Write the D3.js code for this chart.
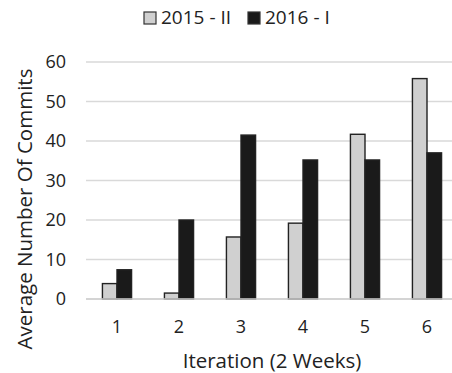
<!DOCTYPE html>
<html>
<head>
<meta charset="utf-8">
<script src="https://cdn.jsdelivr.net/npm/d3@7"></script>
<style>
  html, body { margin: 0; padding: 0; background: #fff; }
  svg { display: block; font-family: "Open Sans", sans-serif; }
</style>
</head>
<body>
<svg id="chart" width="452" height="373"></svg>
<script>
// Average commits per two-week iteration, two semesters
const iterations = ["1", "2", "3", "4", "5", "6"];
const seriesNames = ["2015 - II", "2016 - I"];
const commits2015 = [3.9, 1.5, 15.7, 19.2, 41.7, 55.8];
const commits2016 = [7.4, 20.0, 41.5, 35.2, 35.2, 37.0];
const yTicks = [0, 10, 20, 30, 40, 50, 60];

const seriesFill = ["#d0d0d0", "#1a1a1a"];

const svg = d3.select("#chart");
const W = 452, H = 373;
const m = { left: 86, right: -6, top: 62, bottom: 74 };

const x = d3.scaleBand()
  .domain(iterations)
  .range([m.left, W - m.right])
  .paddingInner(0.53)
  .paddingOuter(0.265);

const xSeries = d3.scaleBand()
  .domain(seriesNames)
  .range([0, x.bandwidth()]);

const y = d3.scaleLinear()
  .domain([0, 60])
  .range([H - m.bottom, m.top]);

// horizontal gridlines
svg.append("g")
  .selectAll("line")
  .data(yTicks)
  .join("line")
  .attr("x1", m.left)
  .attr("x2", W)
  .attr("y1", d => y(d))
  .attr("y2", d => y(d))
  .attr("stroke", "#d9d9d9")
  .attr("stroke-width", 1.5);

// y tick labels
const yAxis = svg.append("g")
  .attr("transform", `translate(${m.left - 20},0)`)
  .call(d3.axisLeft(y).tickValues(yTicks).tickSize(0).tickPadding(0));
yAxis.select(".domain").remove();
yAxis.selectAll("text")
  .attr("font-size", 18)
  .attr("fill", "#222")
  .style("font-family", "'Open Sans', sans-serif");

// bars
const rows = iterations.map((it, i) => ({ it, vals: [commits2015[i], commits2016[i]] }));
svg.append("g")
  .selectAll("g")
  .data(rows)
  .join("g")
  .attr("transform", d => `translate(${x(d.it)},0)`)
  .selectAll("rect")
  .data(d => d.vals.map((v, k) => ({ v, k })))
  .join("rect")
  .attr("x", d => xSeries(seriesNames[d.k]))
  .attr("width", xSeries.bandwidth())
  .attr("y", d => y(d.v))
  .attr("height", d => y(0) - y(d.v))
  .attr("fill", d => seriesFill[d.k])
  .attr("stroke", "#222")
  .attr("stroke-width", 1.4);

// baseline
svg.append("line")
  .attr("x1", m.left)
  .attr("x2", W)
  .attr("y1", y(0))
  .attr("y2", y(0))
  .attr("stroke", "#cfcfcf")
  .attr("stroke-width", 1.5);

// x tick labels
const xAxis = svg.append("g")
  .attr("transform", `translate(0,${y(0) + 21})`)
  .call(d3.axisBottom(x).tickSize(0).tickPadding(0));
xAxis.select(".domain").remove();
xAxis.selectAll("text")
  .attr("font-size", 18)
  .attr("fill", "#222")
  .style("font-family", "'Open Sans', sans-serif");

// axis titles
svg.append("text")
  .attr("x", 272)
  .attr("y", 367.5)
  .attr("text-anchor", "middle")
  .attr("font-size", 20.5)
  .attr("fill", "#222")
  .text("Iteration (2 Weeks)");

svg.append("text")
  .attr("transform", "translate(32,209) rotate(-90)")
  .attr("text-anchor", "middle")
  .attr("font-size", 20.5)
  .attr("fill", "#222")
  .text("Average Number Of Commits");

// legend
const legendX = [144, 248];
const legend = svg.append("g")
  .selectAll("g")
  .data(seriesNames)
  .join("g")
  .attr("transform", (d, i) => `translate(${legendX[i]},12)`);
legend.append("rect")
  .attr("width", 12)
  .attr("height", 12)
  .attr("fill", (d, i) => seriesFill[i])
  .attr("stroke", "#333")
  .attr("stroke-width", 1.2);
legend.append("text")
  .attr("x", 17)
  .attr("y", 11.5)
  .attr("font-size", 19)
  .attr("fill", "#222")
  .text(d => d);
</script>
</body>
</html>
